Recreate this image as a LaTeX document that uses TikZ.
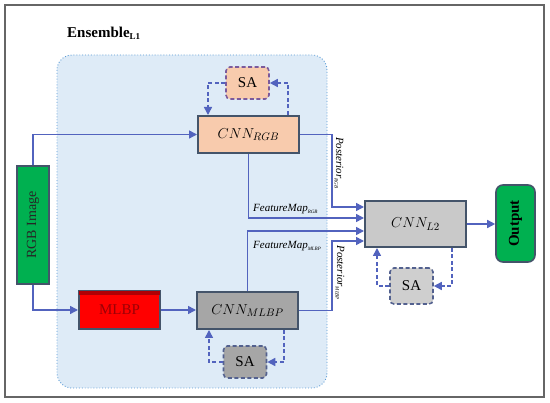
\documentclass[tikz,border=0pt]{standalone}
\usepackage{fontspec}
\setmainfont{Liberation Serif}
\usetikzlibrary{arrows.meta,calc}
\definecolor{peach}{HTML}{F8CBAD}
\definecolor{regionfill}{HTML}{DEEBF7}
\definecolor{regionline}{HTML}{5B9BD5}
\definecolor{boxline}{HTML}{44546A}
\definecolor{arrcol}{HTML}{5263BE}
\definecolor{midgray}{HTML}{A6A6A6}
\definecolor{lightgray2}{HTML}{C9C9C9}
\definecolor{sagray}{HTML}{CFCFCF}
\definecolor{greenbox}{HTML}{00B050}
\definecolor{darkred}{HTML}{9C0006}
\definecolor{sapurple}{HTML}{7B5A9C}
\definecolor{sablue}{HTML}{53618F}
\tikzset{
  cnnbox/.style={draw=boxline, line width=2pt, minimum width=101pt, inner sep=0pt, font=\fontsize{15.5}{17}\selectfont},
  sabox/.style={draw=sablue, dash pattern=on 4pt off 2.5pt, line width=1.6pt, rounded corners=4pt, minimum width=43pt, minimum height=32pt, inner sep=0pt, font=\fontsize{15}{17}\selectfont},
  arr/.style={draw=arrcol, line width=1.5pt, -{Triangle[length=8pt,width=8pt]}},
  dasharr/.style={arr, dash pattern=on 4pt off 2.5pt},
  lbl/.style={font=\fontsize{11}{12}\selectfont\itshape, inner sep=1pt}
}
\newcommand{\mysub}[1]{\textsubscript{\fontsize{5}{5}\selectfont #1}}
\begin{document}
\begin{tikzpicture}[x=1pt,y=-1pt]
\useasboundingbox (0,0) rectangle (550,403);
\fill[white] (0,0) rectangle (550,403);
% frame
\draw[color=black!60, line width=1.4pt] (5,5) rectangle (544,397);
% title
\node[anchor=west, font=\fontsize{15}{17}\selectfont\bfseries, inner sep=0pt] (title) at (67,33) {Ensemble\textsubscript{\fontsize{9}{9}\selectfont L1}};
% region
\draw[regionline, fill=regionfill, dotted, line width=0.9pt, rounded corners=15pt] (57,55) rectangle (327,388);
% nodes
\node[cnnbox, fill=peach, minimum height=37pt] (cnnrgb) at (248.5,134.5) {$CNN_{RGB}$};
\node[sabox, fill=peach, draw=sapurple] (satop) at (247.5,83) {SA};
\node[draw=boxline, line width=2pt, fill=greenbox, minimum width=32pt, minimum height=118pt, inner sep=0pt] (rgb) at (33,225) {};
\node[rotate=90, font=\fontsize{14}{16}\selectfont, text=black!85] (rgbtxt) at (rgb.center) {RGB Image};
\node[draw=boxline, line width=2pt, fill=red, minimum width=81pt, minimum height=38pt, inner sep=0pt] (mlbp) at (119.5,310) {};
\fill[darkred!80!red] ($(mlbp.north west)+(1,1)$) rectangle ($(mlbp.north east)+(-1,5)$);
\node[font=\fontsize{15}{17}\selectfont, text=darkred] (mlbptxt) at (mlbp.center) {MLBP};
\node[cnnbox, fill=midgray, minimum height=37pt] (cnnmlbp) at (247.5,310.5) {$CNN_{MLBP}$};
\node[sabox, fill=midgray] (sabot) at (245,362) {SA};
\node[cnnbox, fill=lightgray2, minimum height=46pt] (cnnl2) at (415.5,224) {$CNN_{L2}$};
\node[sabox, fill=sagray, minimum height=36pt] (sal2) at (411.5,286) {SA};
\node[draw=boxline, line width=1.6pt, fill=greenbox, rounded corners=7pt, minimum width=39pt, minimum height=77pt, inner sep=0pt] (output) at (515.5,223.5) {};
\node[rotate=90, font=\fontsize{15}{17}\selectfont\bfseries] (outtxt) at (output.center) {Output};
% connectors
\draw[arr] (rgb.north) |- (cnnrgb.west);
\draw[arr] (rgb.south) |- (mlbp.west);
\draw[arr] (mlbp.east) -- (cnnmlbp.west |- mlbp.east);
\draw[dasharr] (satop.west) -| ([xshift=11pt]cnnrgb.north west);
\draw[dasharr] ([xshift=-12pt]cnnrgb.north east) |- (satop.east);
\draw[dasharr] (sabot.west) -| ([xshift=13pt]cnnmlbp.south west);
\draw[dasharr] ([xshift=-15pt]cnnmlbp.south east) |- (sabot.east);
\draw[dasharr] (sal2.west) -| ([xshift=13pt]cnnl2.south west);
\draw[dasharr] ([xshift=-15pt]cnnl2.south east) |- (sal2.east);
\draw[arr] (cnnrgb.east) -| (332,207) -- (cnnl2.west |- 0,207);
\draw[arr] (cnnrgb.south) |- (cnnl2.west |- 0,218);
\draw[arr] (cnnmlbp.north) |- (cnnl2.west |- 0,231);
\draw[arr] (cnnmlbp.east) -| (332,241) -- (cnnl2.west |- 0,241);
\draw[arr] (cnnl2.east) -- (output.west |- cnnl2.east);
% labels
\node[lbl, anchor=west] (fmrgb) at (252,209) {FeatureMap\mysub{RGB}};
\node[lbl, anchor=west] (fmmlbp) at (252,246) {FeatureMap\mysub{MLBP}};
\node[lbl, rotate=-90] (postrgb) at (339,163) {Posterior\mysub{RGB}};
\node[lbl, rotate=-90] (postmlbp) at (340,273) {Posterior\mysub{MLBP}};
\end{tikzpicture}
\end{document}
